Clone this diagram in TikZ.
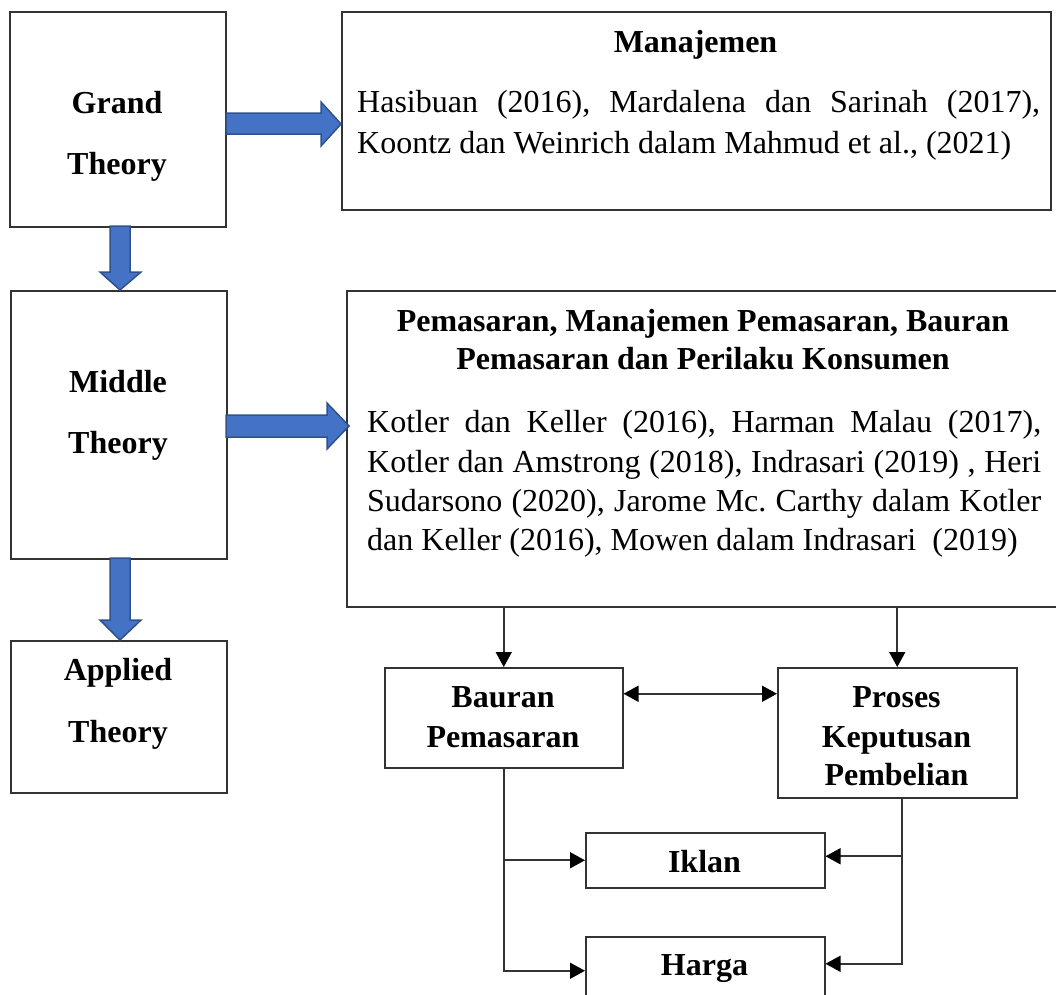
\documentclass[tikz,border=0pt]{standalone}
\usepackage{fontspec}
\setmainfont{Liberation Serif}
\usetikzlibrary{arrows.meta}
\definecolor{arrfill}{HTML}{4472C4}
\definecolor{arredge}{HTML}{2F528F}
\definecolor{ln}{HTML}{333333}
\begin{document}
\begin{tikzpicture}[x=1pt,y=-1pt,
  box/.style={draw=ln,line width=1.5pt,inner sep=0pt,anchor=north west},
  lbl/.style={font=\fontsize{32}{40}\selectfont\bfseries\frenchspacing,anchor=base,inner sep=0pt},
  txt/.style={font=\fontsize{32}{40}\selectfont\frenchspacing,anchor=base west,inner sep=0pt},
  conn/.style={draw=ln,line width=1.6pt,-{Triangle[length=15pt,width=16pt,color=black]}},
  connb/.style={draw=ln,line width=1.6pt,{Triangle[length=15pt,width=16pt,color=black]}-{Triangle[length=15pt,width=16pt,color=black]}},
  blk/.style={fill=arrfill,draw=arredge,line width=1.5pt,line join=miter}]
\path[use as bounding box] (0,0) rectangle (1056,994);
\clip (0,0) rectangle (1056,994);
\fill[white] (0,0) rectangle (1056,994);

% boxes
\node[box,minimum width=216pt,minimum height=215pt] (grand) at (9,11) {};
\node[box,minimum width=709pt,minimum height=198pt] (man) at (341,11) {};
\node[box,minimum width=216pt,minimum height=268pt] (middle) at (10,290) {};
\node[box,minimum width=715pt,minimum height=316pt] (pem) at (346,290) {};
\node[box,minimum width=216pt,minimum height=152pt] (applied) at (10,640) {};
\node[box,minimum width=238pt,minimum height=100pt] (bauran) at (384,667) {};
\node[box,minimum width=239pt,minimum height=130pt] (proses) at (777,667) {};
\node[box,minimum width=239pt,minimum height=55pt] (iklan) at (585,832) {};
\node[box,minimum width=239pt,minimum height=68pt] (harga) at (585,936) {};

% labels
\node[lbl] (grandA) at (117,113) {Grand};
\node[lbl] (grandB) at (117,174) {Theory};
\node[lbl] (middleA) at (118,392) {Middle};
\node[lbl] (middleB) at (118,453) {Theory};
\node[lbl] (appliedA) at (118,680) {Applied};
\node[lbl] (appliedB) at (118,742) {Theory};
\node[lbl] (bauranA) at (503,707) {Bauran};
\node[lbl] (bauranB) at (503,747) {Pemasaran};
\node[lbl] (prosesA) at (896.5,707) {Proses};
\node[lbl] (prosesB) at (896.5,747) {Keputusan};
\node[lbl] (prosesC) at (896.5,785) {Pembelian};
\node[lbl] (iklanA) at (704.5,872) {Iklan};
\node[lbl] (hargaA) at (704.5,975) {Harga};

\node[lbl] (manT) at (695.5,52) {Manajemen};
\node[txt] (man1) at (357,112) {\makebox[683pt][s]{Hasibuan (2016), Mardalena dan Sarinah (2017),}};
\node[txt] (man2) at (357,153) {Koontz dan Weinrich dalam Mahmud et al., (2021)};

\node[lbl] (pemT1) at (703,331) {Pemasaran, Manajemen Pemasaran, Bauran};
\node[lbl] (pemT2) at (703,369) {Pemasaran dan Perilaku Konsumen};
\node[txt] (pem1) at (367,432) {\makebox[674pt][s]{Kotler dan Keller (2016), Harman Malau (2017),}};
\node[txt] (pem2) at (367,472) {\makebox[674pt][s]{Kotler dan Amstrong (2018), Indrasari (2019) , Heri}};
\node[txt] (pem3) at (367,511) {\makebox[674pt][s]{Sudarsono (2020), Jarome Mc. Carthy dalam Kotler}};
\node[txt] (pem4) at (367,550) {dan Keller (2016), Mowen dalam Indrasari \ (2019)};

% block arrows
\draw[blk] (226,113)--(321,113)--(321,102)--(341,124)--(321,146)--(321,134)--(226,134)--cycle;
\draw[blk] (226,415)--(327,415)--(327,403)--(349,426)--(327,449)--(327,437)--(226,437)--cycle;
\draw[blk] (110,226)--(130,226)--(130,272)--(141,272)--(120,290)--(100,272)--(110,272)--cycle;
\draw[blk] (110,558)--(130,558)--(130,620)--(141,620)--(120,640)--(100,620)--(110,620)--cycle;

% connectors
\coordinate (pd) at ([xshift=5pt]proses.south);
\coordinate (ik) at ([yshift=4pt]iklan.east);
\coordinate (hg) at ([yshift=7pt]harga.east);
\draw[conn] (pem.south -| bauran.north) -- (bauran.north);
\draw[conn] (pem.south -| proses.north) -- (proses.north);
\draw[connb] ([yshift=24pt]bauran.east) -- ([yshift=24pt]bauran.east -| proses.west);
\draw[conn] (bauran.south) |- (harga.west);
\draw[conn] (bauran.south |- iklan.west) -- (iklan.west);
\draw[conn] (pd) |- (hg);
\draw[conn] (pd |- ik) -- (ik);
\end{tikzpicture}
\end{document}
